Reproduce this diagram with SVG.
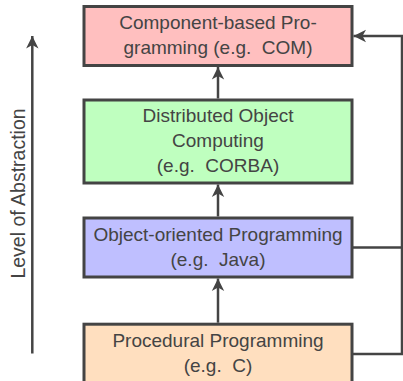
<svg xmlns="http://www.w3.org/2000/svg" width="403" height="381" viewBox="0 0 403 381">
  <style>
    .box { stroke: #444; stroke-width: 3; }
    .lbl { font-family: "Liberation Sans", Arial, sans-serif; font-size: 19px; fill: #444; text-anchor: middle; white-space: pre; }
    .edge { fill: none; stroke: #444; stroke-width: 2.5; }
  </style>
  <defs>
    <marker id="head" markerUnits="userSpaceOnUse" viewBox="-13 -7 14 14" refX="0" refY="0" markerWidth="14" markerHeight="14" orient="auto">
      <path d="M0,0 L-12.5,-6.2 L-9,0 L-12.5,6.2 Z" fill="#444"/>
    </marker>
  </defs>

  <!-- abstraction axis -->
  <g id="axis">
    <line class="edge" x1="32.3" y1="353.5" x2="32.3" y2="36" marker-end="url(#head)"/>
    <text class="lbl" transform="translate(25 193.5) rotate(-90)" x="0" y="0" style="font-size:19.5px">Level of Abstraction</text>
  </g>

  <!-- connectors -->
  <g id="connectors">
    <line class="edge" x1="218" y1="98.5" x2="218" y2="67" marker-end="url(#head)"/>
    <line class="edge" x1="218" y1="216.5" x2="218" y2="184.5" marker-end="url(#head)"/>
    <line class="edge" x1="218" y1="322.7" x2="218" y2="278.5" marker-end="url(#head)"/>
    <polyline class="edge" points="353,247.5 402,247.5"/>
    <polyline class="edge" points="353,354 402,354 402,36 353.5,36" marker-end="url(#head)"/>
  </g>

  <g id="component">
    <rect class="box" x="84" y="6.5" width="268" height="59" fill="#ffbfbf"/>
    <text class="lbl" x="218" y="28.5">Component-based Pro-</text>
    <text class="lbl" x="218" y="53.5" xml:space="preserve">gramming (e.g.  COM)</text>
  </g>

  <g id="distributed">
    <rect class="box" x="84" y="100" width="268" height="83" fill="#bfffbf"/>
    <text class="lbl" x="218" y="122">Distributed Object</text>
    <text class="lbl" x="218" y="147">Computing</text>
    <text class="lbl" x="218" y="172" xml:space="preserve">(e.g.  CORBA)</text>
  </g>

  <g id="objectoriented">
    <rect class="box" x="84" y="218" width="268" height="59" fill="#bfbfff"/>
    <text class="lbl" x="218" y="240.5">Object-oriented Programming</text>
    <text class="lbl" x="218" y="265.5" xml:space="preserve">(e.g.  Java)</text>
  </g>

  <g id="procedural">
    <rect class="box" x="84" y="324.2" width="268" height="59" fill="#ffdfbf"/>
    <text class="lbl" x="218" y="346.5">Procedural Programming</text>
    <text class="lbl" x="218" y="371.5" xml:space="preserve">(e.g.  C)</text>
  </g>
</svg>
